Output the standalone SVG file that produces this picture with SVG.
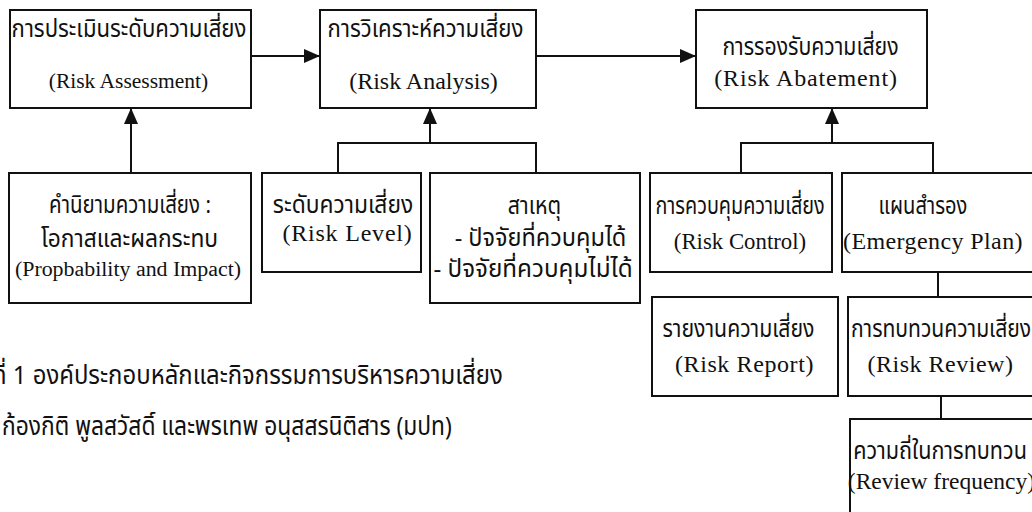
<svg xmlns="http://www.w3.org/2000/svg" width="1032" height="512" viewBox="0 0 1032 512">
<defs>
<style>
.box{fill:#fff;stroke:#111;stroke-width:2}
.th{font-family:"Noto Sans Thai","Liberation Serif",serif;fill:#111;text-anchor:middle;font-size:24px}
.t{font-family:"Liberation Serif","Noto Sans Thai",serif;fill:#111;text-anchor:middle;font-size:24px}
.c{font-family:"Noto Sans","Noto Sans Thai",sans-serif;fill:#111;font-size:26px}
.ln{fill:none;stroke:#111;stroke-width:2}
</style>
<marker id="ah" markerWidth="16" markerHeight="14" refX="16" refY="7" orient="auto" markerUnits="userSpaceOnUse">
<path d="M0,0 L16,7 L0,14 Z" fill="#111"/>
</marker>
</defs>
<rect width="1032" height="512" fill="#fff"/>
<g id="connectors">
<line class="ln" x1="251" y1="56" x2="320" y2="56" marker-end="url(#ah)"/>
<line class="ln" x1="536" y1="56" x2="696" y2="56" marker-end="url(#ah)"/>
<line class="ln" x1="131" y1="173" x2="131" y2="108" marker-end="url(#ah)"/>
<line class="ln" x1="430" y1="143" x2="430" y2="108" marker-end="url(#ah)"/>
<path class="ln" d="M338,173 V143 H536 V173"/>
<line class="ln" x1="832" y1="143" x2="832" y2="108" marker-end="url(#ah)"/>
<path class="ln" d="M741,173 V143 H933 V173"/>
<line class="ln" x1="938" y1="272" x2="938" y2="297"/>
<line class="ln" x1="941" y1="396" x2="941" y2="419"/>
</g>
<g id="n1"><rect class="box" x="10" y="10" width="241" height="98"/>
<text class="th" transform="translate(129,37) scale(0.923,1)">การประเมินระดับความเสี่ยง</text>
<text class="t" x="128.5" y="88" style="font-size:21.5px">(Risk Assessment)</text></g>
<g id="n2"><rect class="box" x="320" y="10" width="216" height="98"/>
<text class="th" transform="translate(425.5,37) scale(0.926,1)">การวิเคราะห์ความเสี่ยง</text>
<text class="t" x="423.5" y="89">(Risk Analysis)</text></g>
<g id="n3"><rect class="box" x="696" y="10" width="231" height="98"/>
<text class="th" transform="translate(810.5,55) scale(0.885,1)">การรองรับความเสี่ยง</text>
<text class="t" x="806" y="86" style="letter-spacing:0.85px">(Risk Abatement)</text></g>
<g id="n4"><rect class="box" x="9" y="173" width="242" height="130"/>
<text class="th" transform="translate(130,213) scale(0.855,1)">คำนิยามความเสี่ยง :</text>
<text class="th" transform="translate(129.5,247) scale(0.95,1)">โอกาสและผลกระทบ</text>
<text class="t" x="128" y="276" style="font-size:21.9px">(Propbability and Impact)</text></g>
<g id="n5"><rect class="box" x="262" y="173" width="159" height="99"/>
<text class="th" transform="translate(343,213) scale(0.95,1)">ระดับความเสี่ยง</text>
<text class="t" x="347.5" y="241" style="letter-spacing:0.8px">(Risk Level)</text></g>
<g id="n6"><rect class="box" x="430" y="173" width="210" height="130"/>
<text class="th" transform="translate(534.5,214) scale(0.89,1)">สาเหตุ</text>
<text class="th" transform="translate(540.5,246) scale(0.98,1)">- ปัจจัยที่ควบคุมได้</text>
<text class="th" transform="translate(533,277) scale(1.01,1)">- ปัจจัยที่ควบคุมไม่ได้</text></g>
<g id="n7"><rect class="box" x="650" y="173" width="182" height="99"/>
<text class="th" transform="translate(740,214) scale(0.825,1)">การควบคุมความเสี่ยง</text>
<text class="t" x="740" y="249" style="font-size:22.8px">(Risk Control)</text></g>
<g id="n8"><rect class="box" x="842" y="173" width="200" height="99"/>
<text class="th" transform="translate(923,214) scale(0.84,1)">แผนสำรอง</text>
<text class="t" x="933" y="249" style="letter-spacing:0.4px">(Emergency Plan)</text></g>
<g id="n9"><rect class="box" x="652" y="297" width="186" height="99"/>
<text class="th" transform="translate(738.5,337) scale(0.885,1)">รายงานความเสี่ยง</text>
<text class="t" x="744.5" y="372" style="letter-spacing:0.6px">(Risk Report)</text></g>
<g id="n10"><rect class="box" x="848" y="297" width="194" height="99"/>
<text class="th" transform="translate(941,337) scale(0.88,1)">การทบทวนความเสี่ยง</text>
<text class="t" x="940.5" y="372" style="letter-spacing:0.5px">(Risk Review)</text></g>
<g id="n11"><rect class="box" x="850" y="419" width="192" height="100"/>
<text class="th" transform="translate(940,459) scale(0.9,1)">ความถี่ในการทบทวน</text>
<text class="t" x="941.5" y="489" style="font-size:23.5px">(Review frequency)</text></g>
<g id="caption">
<text class="c" transform="translate(-8,384) scale(0.92,1)">ที่ 1 องค์ประกอบหลักและกิจกรรมการบริหารความเสี่ยง</text>
<text class="c" transform="translate(2,435) scale(0.878,1)">ก้องกิติ พูลสวัสดิ์ และพรเทพ อนุสสรนิติสาร (มปท)</text>
</g>
</svg>
